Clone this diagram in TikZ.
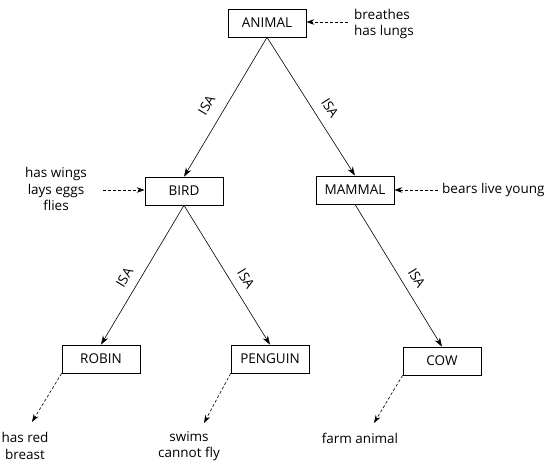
\documentclass[tikz,border=0pt]{standalone}
\usepackage{fontspec}
\setmainfont{Open Sans}
\usetikzlibrary{arrows.meta}
\begin{document}
\begin{tikzpicture}[x=1pt,y=-1pt,
  concept/.style={draw,line width=0.7pt,minimum width=78pt,minimum height=28pt,inner sep=0pt,font=\fontsize{13.5}{16}\selectfont},
  prop/.style={inner sep=0pt,font=\fontsize{13.5}{16.5}\selectfont},
  isa/.style={-{Stealth[length=9pt,width=6pt]},line width=0.6pt},
  propline/.style={-{Stealth[length=8pt,width=5.5pt]},dashed,dash pattern=on 3pt off 2pt,line width=0.6pt},
  isalabel/.style={sloped,above=#1,font=\fontsize{13.5}{16}\selectfont,inner sep=4pt},
  isalabel/.default=5pt]
\useasboundingbox (0,0) rectangle (552,464);
\node[concept] (animal) at (267,23) {ANIMAL};
\node[concept] (bird) at (184,191) {BIRD};
\node[concept] (mammal) at (355,190) {MAMMAL};
\node[concept] (robin) at (101,359) {ROBIN};
\node[concept] (penguin) at (270,359) {PENGUIN};
\node[concept] (cow) at (442,361) {COW};

\node[prop,align=left,anchor=west] (animalprop) at (354,24) {breathes\\has lungs};
\node[prop,align=center] (birdprop) at (56,189) {has wings\\lays eggs\\flies};
\node[prop,anchor=west] (mammalprop) at (442,190) {bears live young};
\node[prop,align=center] (robinprop) at (25,446) {has red\\breast};
\node[prop,align=center] (penguinprop) at (189,446) {swims\\cannot fly};
\node[prop] (cowprop) at (360,438) {farm animal};

\coordinate (a1) at (348,22);
\coordinate (b1) at (103,190);
\coordinate (m1) at (438,190);
\coordinate (r1) at (32,422);
\coordinate (p1) at (204,423);
\coordinate (c1) at (374,423);

\draw[isa] (animal.south) -- node[isalabel=8pt,pos=0.55]{ISA} (bird.north);
\draw[isa] (animal.south) -- node[isalabel=6pt,pos=0.57]{ISA} (mammal.north);
\draw[isa] (bird.south) -- node[isalabel,pos=0.57]{ISA} (robin.north);
\draw[isa] (bird.south) -- node[isalabel,pos=0.58]{ISA} (penguin.north);
\draw[isa] (mammal.south) -- node[isalabel,pos=0.57]{ISA} (cow.north);

\draw[propline] (a1) -- (animal.east |- a1);
\draw[propline] (b1) -- (bird.west |- b1);
\draw[propline] (m1) -- (mammal.east |- m1);
\draw[propline] (robin.south west) -- (r1);
\draw[propline] (penguin.south west) -- (p1);
\draw[propline] (cow.south west) -- (c1);
\end{tikzpicture}
\end{document}
